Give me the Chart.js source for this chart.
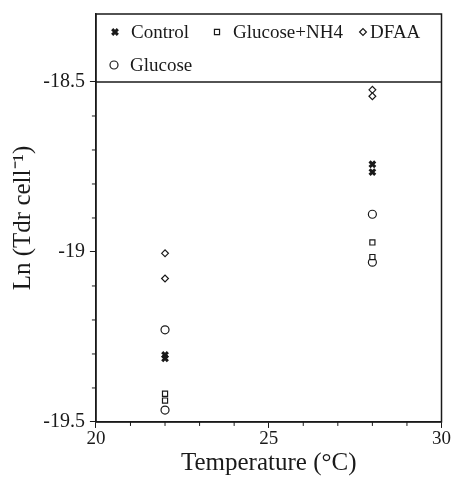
<!DOCTYPE html>
<html>
<head>
<meta charset="utf-8">
<script src="https://cdn.jsdelivr.net/npm/chart.js@4.4.1/dist/chart.umd.min.js"></script>
<style>
  html, body { margin: 0; padding: 0; background: #fff; }
  #wrap { width: 451px; height: 479px; }
</style>
</head>
<body>
<div id="wrap"><canvas id="tdr"></canvas></div>
<script>
// temperatures of the replicate samples (°C)
var temps = [22, 22, 28, 28];

// Ln (Tdr per cell) for each treatment, same order as temps
var controlVals = [-19.303, -19.313, -18.742, -18.765];
var glucoseNh4Vals = [-19.417, -19.437, -18.972, -19.015];
var dfaaVals = [-19.004, -19.078, -18.523, -18.542];
var glucoseVals = [-19.229, -19.465, -18.889, -19.03];

var xMajor = [20, 25, 30];
var yMajor = [-19.5, -19, -18.5];

var ink = "#1a1a1a";
var serif = "'Liberation Serif', 'Times New Roman', serif";

function pts(vals) {
    return vals.map(function (v, i) { return { x: temps[i], y: v }; });
}

var control = {
    label: "Control",
    data: pts(controlVals),
    pointStyle: "crossRot",
    pointRadius: 4,
    pointBorderWidth: 3,
    borderColor: ink,
    backgroundColor: ink,
};

var glucoseNh4 = {
    label: "Glucose+NH4",
    data: pts(glucoseNh4Vals),
    pointStyle: "rect",
    pointRadius: 3.6,
    pointBorderWidth: 1.2,
    borderColor: ink,
    backgroundColor: "#fff",
};

var dfaa = {
    label: "DFAA",
    data: pts(dfaaVals),
    pointStyle: "rectRot",
    pointRadius: 3.4,
    pointBorderWidth: 1.2,
    borderColor: ink,
    backgroundColor: "#fff",
};

var glucose = {
    label: "Glucose",
    data: pts(glucoseVals),
    pointStyle: "circle",
    pointRadius: 4,
    pointBorderWidth: 1.2,
    borderColor: ink,
    backgroundColor: "#fff",
};

// box, separator under the key, minor ticks and the key itself
var frame = {
    id: "frame",
    afterDraw: function (chart) {
        var ctx = chart.ctx;
        var a = chart.chartArea;
        var xs = chart.scales.x;
        var ys = chart.scales.y;
        ctx.save();
        ctx.strokeStyle = ink;
        ctx.lineWidth = 1.5;
        ctx.strokeRect(a.left, a.top, a.right - a.left, a.bottom - a.top);

        var sep = ys.getPixelForValue(-18.5);
        ctx.beginPath();
        ctx.moveTo(a.left, sep);
        ctx.lineTo(a.right, sep);
        ctx.stroke();

        ctx.lineWidth = 1;
        ctx.beginPath();
        for (var t = 21; t < 30; t++) {
            if (t % 5 === 0) continue;
            var px = xs.getPixelForValue(t);
            ctx.moveTo(px, a.bottom);
            ctx.lineTo(px, a.bottom + 4);
        }
        for (var k = 1; k < 10; k++) {
            if (k === 5) continue;
            var py = ys.getPixelForValue(-19.5 + k / 10);
            ctx.moveTo(a.left, py);
            ctx.lineTo(a.left - 4, py);
        }
        ctx.stroke();

        var rows = [
            [control, 115, 32],
            [glucoseNh4, 217, 32],
            [dfaa, 363, 32],
            [glucose, 114, 65],
        ];
        ctx.font = "19px " + serif;
        ctx.fillStyle = ink;
        ctx.textBaseline = "middle";
        rows.forEach(function (r) {
            var ds = r[0];
            ctx.strokeStyle = ds.borderColor;
            ctx.fillStyle = ds.backgroundColor;
            ctx.lineWidth = ds.pointBorderWidth;
            Chart.helpers.drawPoint(ctx, {
                pointStyle: ds.pointStyle,
                radius: ds.pointRadius,
                rotation: 0,
                borderWidth: ds.pointBorderWidth,
            }, r[1], r[2]);
            ctx.fillStyle = ink;
            ctx.fillText(ds.label, r[1] + (ds === dfaa ? 7 : 16), r[2] + 1);
        });
        ctx.restore();
    },
};

var tdrChart = new Chart(document.getElementById("tdr").getContext("2d"), {
    type: "scatter",
    data: { datasets: [control, glucoseNh4, dfaa, glucose] },
    plugins: [frame],
    options: {
        responsive: true,
        maintainAspectRatio: false,
        animation: false,
        layout: { padding: { top: 14, right: 0, left: 5, bottom: 2 } },
        plugins: {
            legend: { display: false },
            tooltip: { enabled: false },
        },
        scales: {
            x: {
                type: "linear",
                min: 20,
                max: 30,
                afterBuildTicks: function (scale) {
                    scale.ticks = xMajor.map(function (v) { return { value: v }; });
                },
                ticks: {
                    color: ink,
                    padding: 0,
                    maxRotation: 0,
                    font: { family: serif, size: 19 },
                },
                grid: { drawOnChartArea: false, tickLength: 6, tickColor: ink, tickWidth: 1 },
                border: { color: ink, width: 1.5 },
                title: {
                    display: true,
                    text: "Temperature (°C)",
                    color: ink,
                    padding: { top: 0, bottom: 0 },
                    font: { family: serif, size: 25, lineHeight: 1.05 },
                },
            },
            y: {
                type: "linear",
                min: -19.5,
                max: -18.3,
                afterBuildTicks: function (scale) {
                    scale.ticks = yMajor.map(function (v) { return { value: v }; });
                },
                ticks: {
                    color: ink,
                    padding: 5,
                    font: { family: serif, size: 20, lineHeight: 0.8 },
                    callback: function (v) { return String(v); },
                },
                grid: { drawOnChartArea: false, tickLength: 6, tickColor: ink, tickWidth: 1 },
                border: { color: ink, width: 1.5 },
                title: {
                    display: true,
                    text: "Ln (Tdr cell⁻¹)",
                    color: ink,
                    padding: { top: 5, bottom: 2 },
                    font: { family: serif, size: 25, lineHeight: 1.05 },
                },
            },
        },
    },
});
</script>
</body>
</html>
